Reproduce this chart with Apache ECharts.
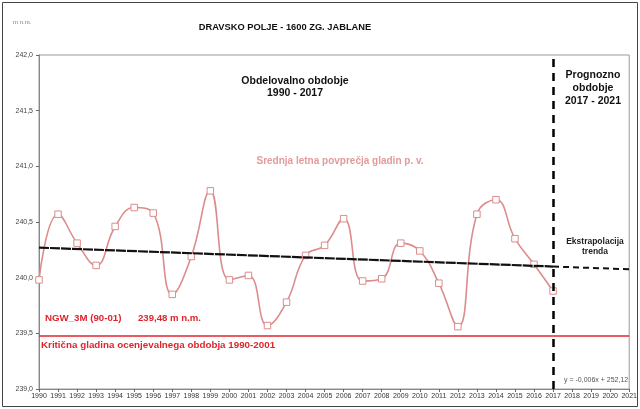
<!DOCTYPE html>
<html><head><meta charset="utf-8">
<script src="https://cdn.jsdelivr.net/npm/echarts@6/dist/echarts.min.js"></script>
<style>html,body{margin:0;padding:0;background:#fff}#c{width:640px;height:409px}</style>
</head><body><div id="c"></div>
<script>
const years = [1990,1991,1992,1993,1994,1995,1996,1997,1998,1999,2000,2001,2002,2003,2004,2005,2006,2007,2008,2009,2010,2011,2012,2013,2014,2015,2016,2017];
const levels = [239.98,240.57,240.31,240.11,240.46,240.63,240.58,239.85,240.19,240.78,239.98,240.02,239.57,239.78,240.20,240.29,240.53,239.97,239.99,240.31,240.24,239.95,239.56,240.57,240.70,240.35,240.12,239.88];
const trendYears = [1990, 2017];
const trendValues = [240.27, 240.10];
const extYears = [2017, 2021];
const extValues = [240.10, 240.075];
const criticalLevel = 239.48;
const forecastStart = 2017;
const yTicks = ['239,0','239,5','240,0','240,5','241,0','241,5','242,0'];

const FONT = '"Liberation Sans", Arial, sans-serif';
const pink = '#dc8c8c';
const red = '#e0242c';
const chart = echarts.init(document.getElementById('c'));
chart.setOption({
  animation: false,
  backgroundColor: '#fff',
  grid: {left: 39, top: 55, width: 593, height: 334, show: true, borderColor: '#999', borderWidth: 1},
  xAxis: {
    type: 'value', min: 1990, max: 2021, interval: 1,
    axisLine: {show: true, onZero: false, lineStyle: {color: '#888'}},
    axisTick: {show: true, length: 3, lineStyle: {color: '#666'}},
    splitLine: {show: false},
    axisLabel: {fontFamily: FONT, fontSize: 7, color: '#333', margin: 4, formatter: v => String(v), hideOverlap: false}
  },
  yAxis: {
    type: 'value', min: 239, max: 242, interval: 0.5,
    axisLine: {show: true, lineStyle: {color: '#888'}},
    axisTick: {show: true, length: 3, lineStyle: {color: '#666'}},
    splitLine: {show: false},
    axisLabel: {fontFamily: FONT, fontSize: 7, color: '#444', margin: 6, formatter: v => yTicks[Math.round((v-239)*2)]}
  },
  series: [
    {
      type: 'line', data: years.map((y,i)=>[y, levels[i]]), smooth: 0.45,
      symbol: 'rect', symbolSize: 6.5, showSymbol: true,
      itemStyle: {color: '#fff', borderColor: pink, borderWidth: 1},
      lineStyle: {color: pink, width: 1.6}, z: 3,
      markLine: {
        silent: true, symbol: 'none', label: {show: false},
        data: [
          {yAxis: criticalLevel, lineStyle: {color: red, width: 1.6, type: 'solid'}},
          {xAxis: forecastStart, lineStyle: {color: '#000', width: 2.5, type: [8, 6]}}
        ]
      }
    },
    {
      type: 'line', data: trendYears.map((y,i)=>[y, trendValues[i]]), symbol: 'none',
      lineStyle: {color: '#111', width: 2.2, type: [10, 1]}, z: 4
    },
    {
      type: 'line', data: extYears.map((y,i)=>[y, extValues[i]]), symbol: 'none',
      lineStyle: {color: '#111', width: 2, type: [6, 4]}, z: 4
    }
  ],
  graphic: [
    {type: 'rect', shape: {x: 2.5, y: 2.5, width: 635, height: 404}, style: {fill: 'none', stroke: '#444', lineWidth: 1}, silent: true},
    {type: 'text', x: 13, y: 22, style: {text: 'm n.m.', font: '6px ' + FONT, fill: '#777', verticalAlign: 'middle'}},
    {type: 'text', x: 285, y: 27, style: {text: 'DRAVSKO POLJE - 1600 ZG. JABLANE', font: 'bold 9.3px ' + FONT, fill: '#111', align: 'center', verticalAlign: 'middle'}},
    {type: 'text', x: 295, y: 87, style: {text: 'Obdelovalno obdobje\n1990 - 2017', font: 'bold 10.5px ' + FONT, fill: '#111', align: 'center', verticalAlign: 'middle', lineHeight: 12}},
    {type: 'text', x: 593, y: 88, style: {text: 'Prognozno\nobdobje\n2017 - 2021', font: 'bold 10.5px ' + FONT, fill: '#111', align: 'center', verticalAlign: 'middle', lineHeight: 13}},
    {type: 'text', x: 340, y: 161, style: {text: 'Srednja letna povprečja gladin p. v.', font: 'bold 10px ' + FONT, fill: '#e39a9a', align: 'center', verticalAlign: 'middle'}},
    {type: 'text', x: 595, y: 247, style: {text: 'Ekstrapolacija\ntrenda', font: 'bold 8.5px ' + FONT, fill: '#222', align: 'center', verticalAlign: 'middle', lineHeight: 10}},
    {type: 'text', x: 45, y: 318, style: {text: 'NGW_3M (90-01)', font: 'bold 9.7px ' + FONT, fill: red, verticalAlign: 'middle'}},
    {type: 'text', x: 138, y: 318, style: {text: '239,48 m n.m.', font: 'bold 9.6px ' + FONT, fill: red, verticalAlign: 'middle'}},
    {type: 'text', x: 41, y: 345, style: {text: 'Kritična gladina ocenjevalnega obdobja 1990-2001', font: 'bold 9.8px ' + FONT, fill: red, verticalAlign: 'middle'}},
    {type: 'text', x: 564, y: 380, style: {text: 'y = -0,006x + 252,12', font: '7px ' + FONT, fill: '#555', verticalAlign: 'middle'}}
  ]
});
</script></body></html>
